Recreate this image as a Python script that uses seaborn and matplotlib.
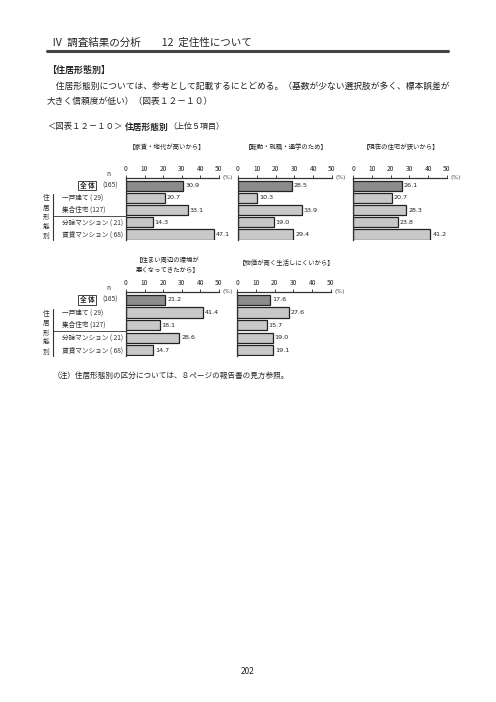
import matplotlib
matplotlib.use("Agg")
import matplotlib.pyplot as plt
import matplotlib.transforms as mtransforms
from matplotlib.lines import Line2D
import seaborn as sns

# ==========================
# Data
# ==========================
groups = ["全 体", "一戸建て", "集合住宅", "分譲マンション", "賃貸マンション"]
group_n = [165, 29, 127, 21, 68]

titles = [
    "【家賃・地代が高いから】",
    "【転勤・就職・通学のため】",
    "【現在の住宅が狭いから】",
    "【住まい周辺の環境が\n悪くなってきたから】",
    "【物価が高く生活しにくいから】",
]
rent_high = [30.9, 20.7, 33.1, 14.3, 47.1]
job_move = [28.5, 10.3, 33.9, 19.0, 29.4]
house_small = [26.1, 20.7, 28.3, 23.8, 41.2]
env_worse = [21.2, 41.4, 18.1, 28.6, 14.7]
price_high = [17.6, 27.6, 15.7, 19.0, 19.1]
panel_values = [rent_high, job_move, house_small, env_worse, price_high]
x_ticks = [0, 10, 20, 30, 40, 50]

# ==========================
# Style
# ==========================
sns.set_style("white")
plt.rcParams["font.family"] = ["Noto Sans CJK JP", "DejaVu Sans"]

W, H = 496, 702
fig = plt.figure(figsize=(W / 100, H / 100), dpi=100)


def fx(x):
    return x / W


def fy(y):
    return 1 - y / H


def ftext(x, y, s, **kw):
    fig.text(fx(x), fy(y), s, **kw)


# ==========================
# Page text
# ==========================
ftext(52, 43, "Ⅳ  調査結果の分析　　12  定住性について", fontsize=7.6, va="center",
      style="italic")
fig.add_artist(Line2D([fx(47), fx(448)], [fy(51), fy(51)], color="#444444", lw=2.2))
ftext(47, 70, "【住居形態別】", fontsize=6.5, va="center", fontweight="bold")
ftext(47, 86, "　住居形態別については、参考として記載するにとどめる。（基数が少ない選択肢が多く、標本誤差が",
      fontsize=6.3, va="center", color="#222222")
ftext(47, 101, "大きく信頼度が低い）（図表１２－１０）", fontsize=6.3, va="center", color="#222222")
ftext(47, 127, "＜図表１２－１０＞", fontsize=6.0, va="center", color="#222222")
ftext(125, 127, "住居形態別", fontsize=6.3, va="center", fontweight="bold")
ftext(168, 127, "（上位５項目）", fontsize=5.8, va="center", color="#222222")
ftext(53, 376, "（注）住居形態別の区分については、８ページの報告書の見方参照。", fontsize=5.5,
      va="center", color="#222222")
ftext(248, 672, "202", fontsize=6, ha="center", va="center", color="#222222")

# ==========================
# Panels
# ==========================
# (left px, right px, top px, bottom px, title center x, title y)
panels = [
    (126, 219, 178, 240, 167, 147),
    (238, 332, 178, 240, 286, 147),
    (353, 447, 178, 240, 401, 147),
    (126, 219, 292, 356, 168, 265),
    (237, 331, 292, 356, 287, 263),
]
palette = ["#8c8c8c"] + ["#c8c8c8"] * 4

for i, (l, r, t, b, tx, ty) in enumerate(panels):
    ax = fig.add_axes([fx(l), fy(b), fx(r) - fx(l), (b - t) / H])
    sns.barplot(x=panel_values[i], y=groups, hue=groups, palette=palette,
                orient="h", width=0.82, edgecolor="#222222", linewidth=0.9,
                legend=False, ax=ax)
    ax.set_xlim(0, 50)
    ax.set_ylim(4.45, -0.62)
    ax.set_xticks(x_ticks)
    ax.xaxis.tick_top()
    ax.tick_params(axis="x", direction="out", length=2, width=0.6, pad=1.5,
                   labelsize=4.8, top=True, bottom=False)
    ax.tick_params(axis="y", left=False, labelleft=False)
    ax.set_xlabel("")
    ax.set_ylabel("")
    for side in ["bottom", "right"]:
        ax.spines[side].set_visible(False)
    for side in ["top", "left"]:
        ax.spines[side].set_color("#333333")
        ax.spines[side].set_linewidth(0.9)

    for k, v in enumerate(panel_values[i]):
        ax.text(v + 1.0, k, f"{v:.1f}", fontsize=4.6, va="center", ha="left",
                color="#222222", family="DejaVu Sans")

    ftext(tx, ty, titles[i], fontsize=4.6, ha="center", va="center",
          linespacing=1.3, color="#222222")
    ftext(r + 9, t - 1, "(%)", fontsize=4.2, ha="center", va="center",
          color="#444444", family="DejaVu Sans")

    # row labels for the left column
    if l == 126:
        trans = mtransforms.blended_transform_factory(fig.transFigure, ax.transData)
        ftext(108, t - 4, "n", fontsize=4.8, ha="center", va="center", color="#333333")
        ax.text(fx(87), 0, groups[0], transform=trans, fontsize=4.8, ha="center",
                va="center", fontweight="bold",
                bbox=dict(boxstyle="square,pad=0.2", fc="white", ec="#222222", lw=0.6))
        ax.text(fx(110), 0, f"({group_n[0]})", transform=trans, fontsize=4.8,
                ha="center", va="center", color="#333333")
        for k in range(1, 5):
            ax.text(fx(62), k, f"{groups[k]} ({group_n[k]:>3})", transform=trans,
                    fontsize=4.8, ha="left", va="center", color="#333333")
        ax.add_line(Line2D([fx(53), fx(53)], [0.7, 4.45], transform=trans,
                           color="#333333", lw=0.8, clip_on=False))
        ax.add_line(Line2D([fx(53), fx(l)], [2.5, 2.5], transform=trans,
                           color="#333333", lw=0.6, clip_on=False))
        ax.text(fx(46), 2.6, "住\n居\n形\n態\n別", transform=trans, fontsize=4.8,
                ha="center", va="center", linespacing=1.25, color="#333333")

fig.savefig("out.png", dpi=100)
